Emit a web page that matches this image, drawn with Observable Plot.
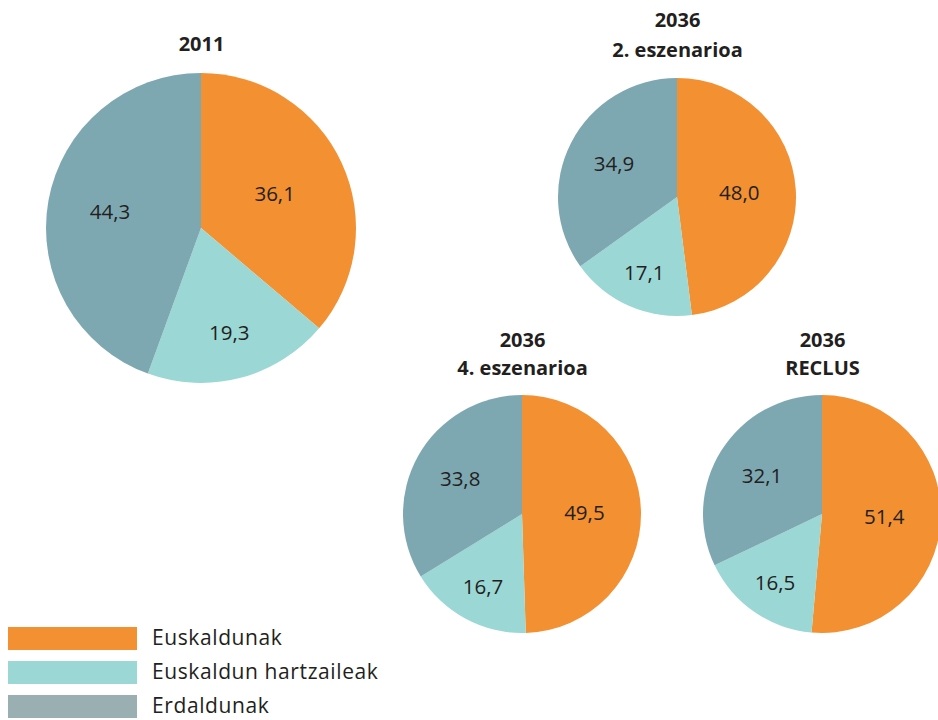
<!DOCTYPE html>
<html>
<head>
<meta charset="utf-8">
<script src="https://cdn.jsdelivr.net/npm/d3@7"></script>
<script src="https://cdn.jsdelivr.net/npm/@observablehq/plot@0.6"></script>
<style>
  html, body { margin: 0; padding: 0; background: #ffffff; }
  #wrap { position: relative; width: 938px; height: 720px; overflow: hidden; font-family: "Open Sans", Lato, sans-serif; }
  #legend { position: absolute; left: 8px; top: 627px; }
  .item { position: relative; height: 34px; }
  .swatch { position: absolute; left: 0; top: 0; width: 129px; height: 23px; }
  .lab { position: absolute; left: 144px; top: -4px; font-size: 21px; letter-spacing: 0.6px; line-height: 29px; color: #231f20; white-space: nowrap; }
</style>
</head>
<body>
<div id="wrap"><div id="chart"></div><div id="legend"></div></div>
<script>
// ---- data ----
const categories = ["Euskaldunak", "Euskaldun hartzaileak", "Erdaldunak"];
const pieTitles = [["2011"], ["2036", "2. eszenarioa"], ["2036", "4. eszenarioa"], ["2036", "RECLUS"]];
const euskaldunak = [36.1, 48.0, 49.5, 51.4];
const hartzaileak = [19.3, 17.1, 16.7, 16.5];
const erdaldunak = [44.3, 34.9, 33.8, 32.1];

// ---- styles / layout ----
const colors = ["#F39031", "#9AD7D5", "#7EA8B1"];
const legendColors = ["#F39031", "#9AD7D5", "#9AAFB1"];
const layout = [
  {cx: 201, cy: 228, r: 155, ty: [44]},
  {cx: 677, cy: 197, r: 119, ty: [20, 50]},
  {cx: 522, cy: 514, r: 119, ty: [340, 368]},
  {cx: 822, cy: 514, r: 119, ty: [340, 368]}
];
const labelRadius = [0.52, 0.70, 0.60];
const textColor = "#231f20";
const W = 938, H = 720;

// ---- build slices ----
const series = [euskaldunak, hartzaileak, erdaldunak];
const pie = d3.pie().sort(null).value(d => d.value);
const slices = [];
layout.forEach((L, i) => {
  const rows = categories.map((c, k) => ({category: c, k, value: series[k][i]}));
  pie(rows).forEach(a => {
    const mid = (a.startAngle + a.endAngle) / 2;
    const rr = L.r * labelRadius[a.data.k];
    slices.push({
      category: a.data.category,
      startAngle: a.startAngle,
      endAngle: a.endAngle,
      cx: L.cx, cy: L.cy, r: L.r,
      lx: L.cx + Math.sin(mid) * rr,
      ly: L.cy - Math.cos(mid) * rr,
      label: a.data.value.toFixed(1).replace(".", ",")
    });
  });
});
const titles = [];
layout.forEach((L, i) => pieTitles[i].forEach((t, j) => titles.push({x: L.cx, y: L.ty[j], text: t})));

const pieMark = (index, scales) => {
  const color = scales.color || d3.scaleOrdinal(categories, colors);
  const g = d3.create("svg:g");
  for (const s of slices) {
    const cx = scales.x(s.cx), cy = scales.y(s.cy);
    const rr = Math.abs(scales.x(s.cx + s.r) - cx);
    g.append("path")
      .attr("transform", `translate(${cx},${cy})`)
      .attr("d", d3.arc().innerRadius(0).outerRadius(rr)(s))
      .attr("fill", color(s.category));
  }
  return g.node();
};

const chart = Plot.plot({
  width: W,
  height: H,
  margin: 0,
  style: {fontFamily: "'Open Sans', Lato, sans-serif", background: "transparent"},
  x: {domain: [0, W], range: [0, W], axis: null},
  y: {domain: [0, H], range: [0, H], axis: null},
  color: {domain: categories, range: colors},
  marks: [
    pieMark,
    Plot.text(slices, {x: "lx", y: "ly", text: "label", fontSize: 20.5, fill: textColor}),
    Plot.text(titles, {x: "x", y: "y", text: "text", fontSize: 20, fontWeight: "bold", fill: textColor})
  ]
});
document.getElementById("chart").appendChild(chart);

// ---- legend ----
const legend = d3.select("#legend");
categories.forEach((c, k) => {
  const item = legend.append("div").attr("class", "item");
  item.append("div").attr("class", "swatch").style("background", legendColors[k]);
  item.append("div").attr("class", "lab").text(c);
});
</script>
</body>
</html>
